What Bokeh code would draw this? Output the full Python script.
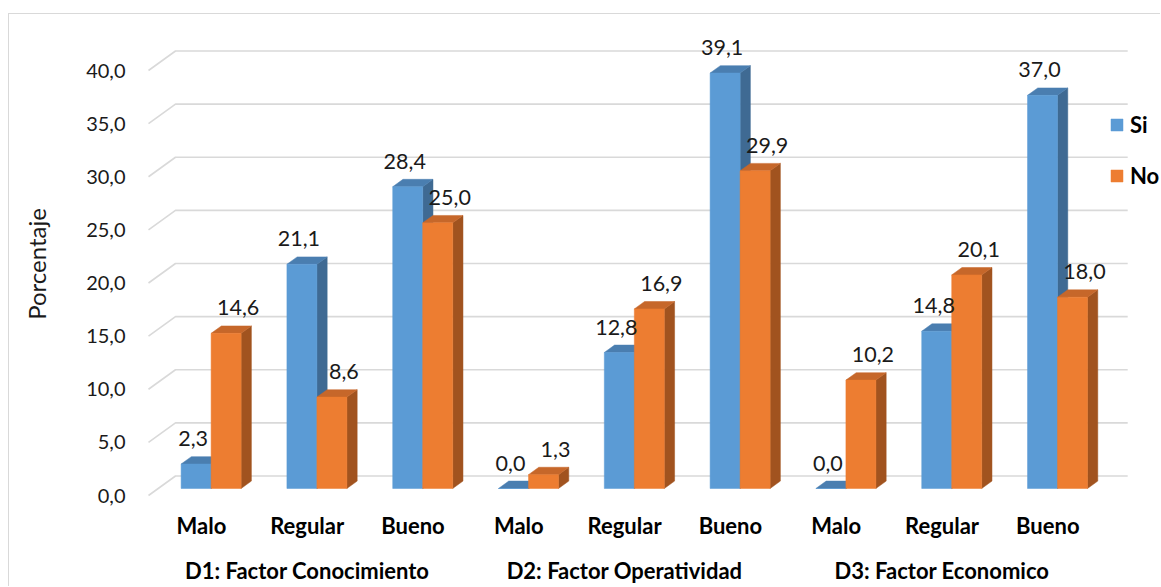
import numpy as np
from bokeh.plotting import figure
from bokeh.models import (Range1d, FixedTicker, CustomJSTickFormatter, LinearAxis,
                          Legend, LegendItem, ColumnDataSource)
from bokeh.core.properties import value
from bokeh.embed import file_html
from bokeh.resources import INLINE

# ---------------- data ----------------
groups = ["D1: Factor Conocimiento", "D2: Factor Operatividad", "D3: Factor Economico"]
levels = ["Malo", "Regular", "Bueno"]
si_values = [2.3, 21.1, 28.4, 0.0, 12.8, 39.1, 0.0, 14.8, 37.0]
no_values = [14.6, 8.6, 25.0, 1.3, 16.9, 29.9, 10.2, 20.1, 18.0]
y_ticks = [0, 5, 10, 15, 20, 25, 30, 35, 40]
series_names = ["Si", "No"]

# ---------------- layout constants (pixels) ----------------
PX_X = 105.8          # px per category
PX_Y = 10.625         # px per percent
FRONT_X0 = 148        # page x of front-left corner of the floor
FRONT_Y0 = 495        # page y of value 0 on the front plane
MARGIN_T, MARGIN_L = 13, 8
FIG_LEFT, FIG_TOP = MARGIN_L + 1, MARGIN_T + 1
W, H = 1152, 573
FRAME_L, FRAME_T, FRAME_B = 140, 30, 497

DX = 27 / PX_X        # full depth of the 3D box
DY = 19.5 / PX_Y
F1, F2 = 0.36, 0.74   # bar depth fractions (front, back)
BAR_W = 30 / PX_X
LABEL_GAP = 18 / PX_Y

FONT = "Lato"
SI_COL = ("#5B9BD5", "#4A7EB0", "#3F6A93")   # front, top, side
NO_COL = ("#ED7D31", "#C6672A", "#A1531F")

n_cat = len(groups) * len(levels)

x_range = Range1d((FRAME_L - FRONT_X0) / PX_X, (FIG_LEFT + W - FRONT_X0) / PX_X)
y_range = Range1d((FRONT_Y0 - FRAME_B) / PX_Y, (FRONT_Y0 - FRAME_T) / PX_Y)

p = figure(width=W, height=H, x_range=x_range, y_range=y_range,
           output_backend="svg", toolbar_location=None,
           min_border_left=FRAME_L - FIG_LEFT, min_border_right=0,
           min_border_top=FRAME_T - FIG_TOP, min_border_bottom=FIG_TOP + H - FRAME_B,
           outline_line_color=None, background_fill_color="white",
           border_fill_color="white")
p.margin = (MARGIN_T, 0, 0, MARGIN_L)
p.styles = {"border-top": "1px solid #d9d9d9", "border-left": "1px solid #d9d9d9"}
p.xgrid.visible = False
p.ygrid.visible = False

# ---------------- 3D grid lines ----------------
gx = [[0, DX, n_cat + DX] for v in y_ticks]
gy = [[v, v + DY, v + DY] for v in y_ticks]
p.multi_line(gx, gy, line_color="#d9d9d9", line_width=1.6)

# ---------------- bars ----------------
def bar_faces(xl, v):
    xr = xl + BAR_W
    f1x, f1y, f2x, f2y = F1 * DX, F1 * DY, F2 * DX, F2 * DY
    front = ([xl + f1x, xr + f1x, xr + f1x, xl + f1x], [f1y, f1y, v + f1y, v + f1y])
    top = ([xl + f1x, xr + f1x, xr + f2x, xl + f2x], [v + f1y, v + f1y, v + f2y, v + f2y])
    side = ([xr + f1x, xr + f2x, xr + f2x, xr + f1x], [f1y, f2y, v + f2y, v + f1y])
    return front, top, side

legend_renderers = {}
for i in range(n_cat):
    c = i + 0.5
    for k, (vals, cols) in enumerate(((si_values, SI_COL), (no_values, NO_COL))):
        xl = c - BAR_W if k == 0 else c
        front, top, side = bar_faces(xl, vals[i])
        p.patch(side[0], side[1], fill_color=cols[2], line_color=cols[2], line_width=0.5)
        p.patch(top[0], top[1], fill_color=cols[1], line_color=cols[1], line_width=0.5)
        r = p.patch(front[0], front[1], fill_color=cols[0], line_color=cols[0], line_width=0.5)
        legend_renderers.setdefault(k, r)

# ---------------- value labels ----------------
lx, ly, lt = [], [], []
for i in range(n_cat):
    c = i + 0.5
    lx.append(c - BAR_W / 2 + F1 * DX - 3 / PX_X)
    ly.append(si_values[i] + F2 * DY + LABEL_GAP)
    lt.append(f"{si_values[i]:.1f}".replace(".", ","))
    lx.append(c + BAR_W / 2 + F1 * DX + 12 / PX_X)
    ly.append(no_values[i] + F2 * DY + LABEL_GAP)
    lt.append(f"{no_values[i]:.1f}".replace(".", ","))
src = ColumnDataSource(dict(x=lx, y=ly, t=lt))
p.text("x", "y", text="t", source=src, text_font=value(FONT), text_font_size="21.5px",
       text_align="center", text_baseline="alphabetic", text_color="#1a1a1a")

# ---------------- axes ----------------
yax = p.yaxis[0]
yax.ticker = FixedTicker(ticks=y_ticks)
yax.formatter = CustomJSTickFormatter(code="return tick.toFixed(1).replace('.', ',');")
yax.axis_line_color = None
yax.major_tick_line_color = None
yax.minor_tick_line_color = None
yax.major_label_standoff = 9
yax.major_label_text_font = FONT
yax.major_label_text_font_size = "20px"
yax.major_label_text_color = "#1a1a1a"
yax.axis_label = "Porcentaje"
yax.axis_label_text_font = FONT
yax.axis_label_text_font_size = "24px"
yax.axis_label_text_font_style = "normal"
yax.axis_label_text_color = "#1a1a1a"
yax.axis_label_standoff = 32

def style_x_axis(ax, standoff):
    ax.axis_line_color = None
    ax.major_tick_line_color = None
    ax.minor_tick_line_color = None
    ax.major_tick_in = 0
    ax.major_tick_out = 0
    ax.major_label_standoff = standoff
    ax.major_label_text_font = FONT
    ax.major_label_text_font_size = "22px"
    ax.major_label_text_font_style = "bold"
    ax.major_label_text_color = "black"

cat_ticks = [i + 0.5 for i in range(n_cat)]
cat_labels = levels * len(groups)
xax = p.xaxis[0]
xax.ticker = FixedTicker(ticks=cat_ticks)
xax.major_label_overrides = {t: lab for t, lab in zip(cat_ticks, cat_labels)}
style_x_axis(xax, 14)

grp_ticks = [g * len(levels) + len(levels) / 2 for g in range(len(groups))]
gax = LinearAxis(ticker=FixedTicker(ticks=grp_ticks),
                 major_label_overrides={t: name for t, name in zip(grp_ticks, groups)})
style_x_axis(gax, 15)
p.add_layout(gax, "below")

# ---------------- legend ----------------
legend = Legend(items=[LegendItem(label=series_names[k], renderers=[legend_renderers[k]])
                       for k in (0, 1)],
                location=(969, 308), orientation="vertical",
                border_line_color=None, background_fill_alpha=0,
                label_text_font=FONT, label_text_font_style="bold",
                label_text_font_size="22px", label_text_color="black",
                glyph_width=15, glyph_height=15, spacing=24, padding=0, margin=0,
                label_standoff=6)
p.add_layout(legend)

open("out.html", "w").write(file_html(p, INLINE))
